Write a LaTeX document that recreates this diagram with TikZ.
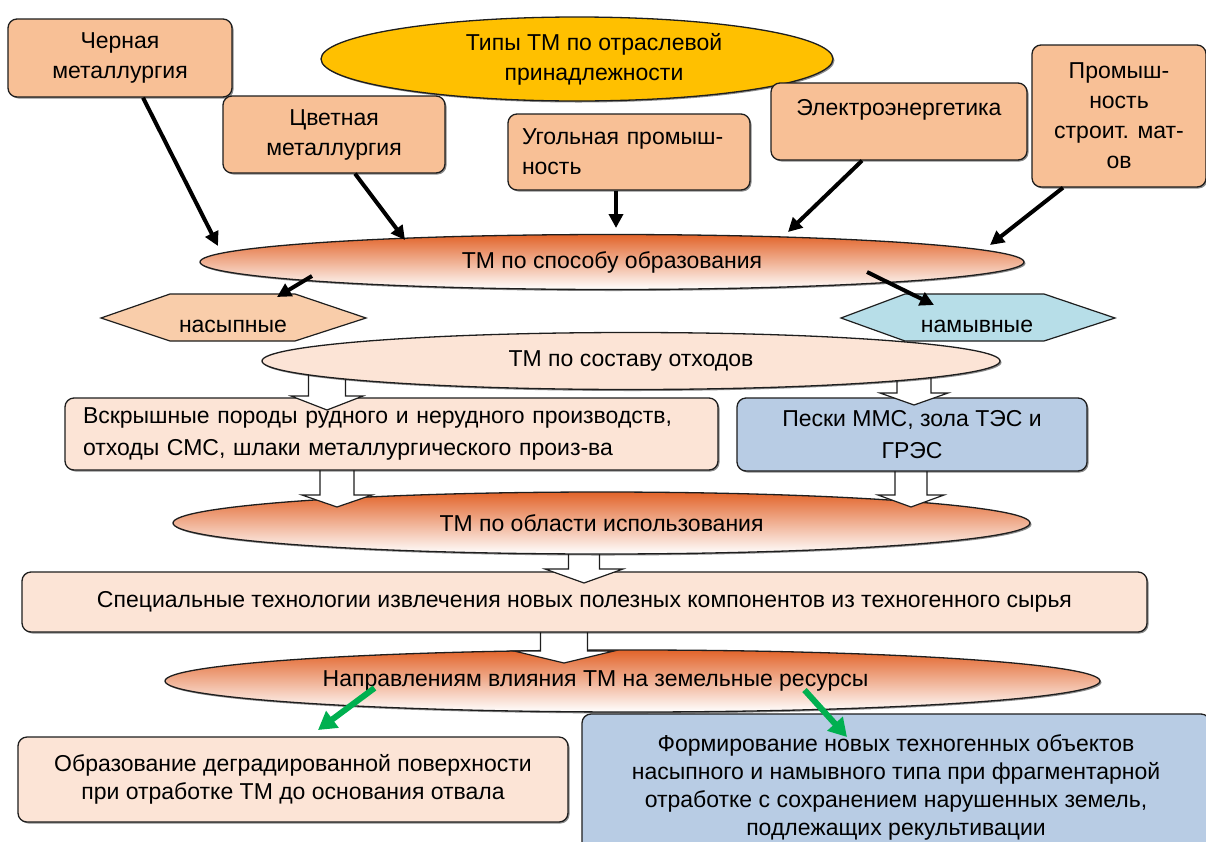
\documentclass[tikz,border=0pt]{standalone}
\usepackage{fontspec}
\setmainfont{Liberation Sans}
\usetikzlibrary{arrows.meta,shadows,calc,shapes.geometric}
\definecolor{peach}{HTML}{F8C096}
\definecolor{lpeach}{HTML}{FCE4D6}
\definecolor{hexpeach}{HTML}{F9CDAA}
\definecolor{lblue}{HTML}{B7DEE8}
\definecolor{sblue}{HTML}{B8CCE4}
\definecolor{gold}{HTML}{FFC000}
\definecolor{ortop}{HTML}{E2642A}
\definecolor{ormid}{HTML}{F4B8A0}
\definecolor{grn}{HTML}{00B050}
\definecolor{edge}{HTML}{1E1E1E}
\newcommand\fA{\fontsize{23}{30}\selectfont}
\newcommand\fC{\fontsize{23}{28}\selectfont}
\newcommand\fD{\fontsize{23}{31.5}\selectfont}
\newcommand\blkarrow[6]{%
  \draw[barrow] (#1-#4/2,#2) -- (#1+#4/2,#2) -- (#1+#4/2,#3-#6) -- (#1+#5/2,#3-#6)
    -- (#1,#3) -- (#1-#5/2,#3-#6) -- (#1-#4/2,#3-#6) -- cycle;}
\begin{document}
\begin{tikzpicture}[x=1pt,y=-1pt,
  box/.style={draw=edge, line width=1.3pt, rounded corners=9pt, align=center,
    font=\fA, inner sep=3pt,
    drop shadow={shadow xshift=1.5pt, shadow yshift=-1.5pt, opacity=.45, fill=black}},
  oell/.style={ellipse, draw=edge, line width=1.3pt, inner sep=0pt, font=\fA,
    top color=ortop, middle color=ormid, bottom color=white,
    drop shadow={shadow xshift=1.5pt, shadow yshift=-1.5pt, opacity=.45, fill=black}},
  barrow/.style={draw=edge, line width=1.2pt, fill=white, line join=miter},
  blk/.style={line width=4pt, draw=black, -{Triangle[length=14pt,width=14pt]}},
  garr/.style={line width=6pt, draw=grn, -{Triangle[length=18pt,width=20pt]}},
  hex/.style={draw=edge, line width=1.2pt},
  ttxt/.style={font=\fA, inner sep=0pt}
]
\useasboundingbox (0,0) rectangle (1206,841);
\fill[white] (0,0) rectangle (1206,841);

% top row
\node[box, fill=peach, minimum width=224pt, minimum height=78pt] (cher) at (120,58) {Черная\\металлургия};
\node[box, fill=peach, minimum width=222pt, minimum height=77pt] (cvet) at (334,134.5) {Цветная\\металлургия};
\node[ellipse, draw=edge, line width=1.3pt, fill=gold, inner sep=0pt, font=\fA,
  align=center, minimum width=512pt, minimum height=84pt,
  drop shadow={shadow xshift=1.5pt, shadow yshift=-1.5pt, opacity=.45, fill=black}]
  (types) at (577,59) {\hspace*{34pt}Типы ТМ по отраслевой\\\hspace*{34pt}принадлежности};
\node[box, fill=peach, minimum width=242pt, minimum height=76pt, text width=214pt,
  align=left, inner xsep=14pt] (ugol) at (629,152) {Угольная промыш-\\ность};
\node[box, fill=peach, minimum width=256pt, minimum height=77pt] (elek) at (899,121.5) {Электроэнергетика\\[-11pt]\strut};
\node[box, fill=peach, minimum width=174pt, minimum height=142pt] (prom) at (1119,116) {Промыш-\\ность\\строит. мат-\\ов};

% hexagons
\draw[hex, fill=hexpeach] (101,318) -- (170,294) -- (295,294) -- (366,318) -- (295,341) -- (170,341) -- cycle;
\node[ttxt] (nas) at (233,326) {насыпные};
\coordinate (nastop) at (277,297);
\draw[hex, fill=lblue] (841,318) -- (905,294) -- (1044,294) -- (1115,318) -- (1044,341) -- (905,341) -- cycle;
\node[ttxt] (nam) at (977,326) {намывные};
\coordinate (namtop) at (934,305);

% chain of ellipses, boxes and block arrows (back to front)
\node[oell, minimum width=935pt, minimum height=62pt] (napr) at (632.5,681) {Направлениям влияния ТМ на земельные ресурсы\hspace*{74pt}};
\blkarrow{564}{620}{663}{47}{100}{12}
\node[box, fill=lpeach, minimum width=1125pt, minimum height=60pt] (spec) at (584.5,602) {Специальные технологии извлечения новых полезных компонентов из техногенного сырья};
\blkarrow{584}{540}{583}{31}{78}{14}
\node[oell, minimum width=857pt, minimum height=62pt] (obl) at (601.5,523) {ТМ по области использования};
\blkarrow{337}{466}{507}{34}{70}{12}
\blkarrow{911}{466}{507}{32}{66}{12}
\node[box, fill=lpeach, font=\fD, minimum width=653pt, minimum height=72pt, text width=617pt,
  align=left, inner xsep=18pt] (vskr) at (391.5,434) {Вскрышные породы рудного и нерудного производств,\\отходы СМС, шлаки металлургического произ-ва};
\node[box, fill=sblue, font=\fD, minimum width=350pt, minimum height=73pt] (peski) at (912,434.5) {Пески ММС, зола ТЭС и\\ГРЭС};
\blkarrow{327}{370}{410}{37}{72}{14}
\blkarrow{914}{375}{405}{34}{68}{12}
\node[ellipse, draw=edge, line width=1.3pt, fill=lpeach, inner sep=0pt, font=\fA,
  minimum width=738pt, minimum height=57pt,
  drop shadow={shadow xshift=1.5pt, shadow yshift=-1.5pt, opacity=.45, fill=black}]
  (sost) at (631,361) {ТМ по составу отходов};

\node[oell, minimum width=824pt, minimum height=55pt] (spos) at (612,262) {ТМ по способу образования};

% bottom boxes
\node[box, fill=lpeach, font=\fC, minimum width=550pt, minimum height=85pt] (obr) at (293,779.5) {Образование деградированной поверхности\\при отработке ТМ до основания отвала};
\node[box, fill=sblue, font=\fC, minimum width=628pt, minimum height=146pt] (form) at (896,787) {Формирование новых техногенных объектов\\насыпного и намывного типа при фрагментарной\\отработке с сохранением нарушенных земель,\\подлежащих рекультивации};

% black arrows
\coordinate (s1) at (218,246);
\coordinate (s2) at (405,240);
\coordinate (s3) at (616,228);
\coordinate (s4) at (788,232);
\coordinate (s5) at (990,245);
\draw[blk] ([xshift=23pt]cher.south) -- (s1);
\draw[blk] ([xshift=21pt]cvet.south) -- (s2);
\draw[blk] ([xshift=-13pt]ugol.south) -- (s3);
\draw[blk] ([xshift=-37pt]elek.south) -- (s4);
\draw[blk] ([xshift=-56pt]prom.south) -- (s5);
\draw[blk] ([xshift=-300pt,yshift=-14pt]spos.center) -- (nastop);
\draw[blk] ([xshift=255pt,yshift=-10pt]spos.center) -- (namtop);

% green arrows
\coordinate (g1) at (318,730);
\coordinate (g2) at (847,737);
\draw[garr] ([xshift=-258pt,yshift=-7pt]napr.center) -- (g1);
\draw[garr] ([xshift=172pt,yshift=-9pt]napr.center) -- (g2);
\end{tikzpicture}
\end{document}
